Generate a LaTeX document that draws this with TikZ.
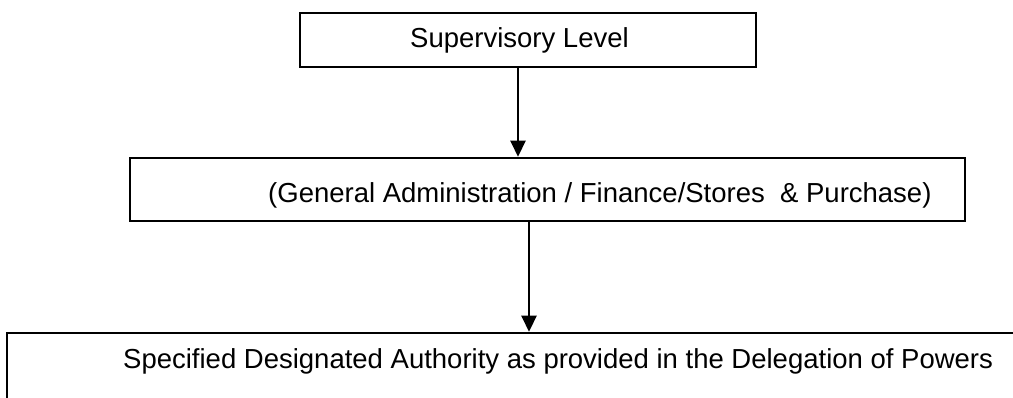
\documentclass[tikz,border=0pt]{standalone}
\usepackage{fontspec}
\setmainfont{Liberation Sans}
\usetikzlibrary{arrows.meta}

\begin{document}
\begin{tikzpicture}[x=1pt,y=-1pt,
  levelbox/.style={draw=black,line width=2.6pt,rectangle,inner sep=0pt},
  boxtext/.style={anchor=base west,inner sep=0pt,font=\fontsize{27.5}{33}\selectfont},
  flow/.style={draw=black,line width=2.6pt,-{Triangle[width=15pt,length=16pt]}}]
  \useasboundingbox[fill=white] (0,0) rectangle (1013,398);
  \clip (0,0) rectangle (1013,398);

  % the three levels
  \node[levelbox,minimum width=456pt,minimum height=54pt] (sup) at (528,40) {};
  \node[levelbox,minimum width=835pt,minimum height=63pt] (adm) at (547.5,189.5) {};
  \node[levelbox,minimum width=1030pt,minimum height=100pt] (auth) at (522,383) {};

  % captions
  \node[boxtext] (supt) at (410,48) {Supervisory Level};
  \node[boxtext] (admt) at (268,203) {(General Administration / Finance/Stores \ \& Purchase)};
  \node[boxtext] (autht) at (123,368) {Specified Designated Authority as provided in the Delegation of Powers};

  % connectors
  \coordinate (xa) at (518,0);
  \coordinate (xb) at (529,0);
  \draw[flow] (xa |- sup.south) -- (xa |- adm.north);
  \draw[flow] (xb |- adm.south) -- (xb |- auth.north);
\end{tikzpicture}
\end{document}
